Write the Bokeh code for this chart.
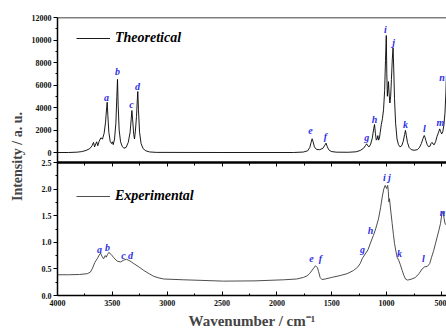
from bokeh.plotting import figure
from bokeh.models import (Range1d, LinearAxis, FixedTicker, Legend, LegendItem, ColumnDataSource)
from bokeh.core.properties import value
from bokeh.embed import file_html
from bokeh.resources import INLINE

# ---------------- data ----------------
THEO_X = [4000, 3900, 3820, 3780, 3740, 3705, 3685, 3672, 3662, 3652, 3643, 3633, 3620, 3605,
          3590, 3575, 3562, 3552, 3547, 3541, 3532, 3520, 3508, 3500, 3492, 3480, 3468, 3459,
          3453, 3447, 3438, 3425, 3410, 3395, 3375, 3355, 3338, 3328, 3322, 3315, 3305, 3298,
          3290, 3280, 3272, 3268, 3262, 3252, 3238, 3220, 3195, 3160, 3100, 2500, 1850, 1760,
          1720, 1700, 1688, 1679, 1670, 1658, 1640, 1610, 1580, 1563, 1552, 1542, 1528, 1505,
          1460, 1350, 1280, 1240, 1210, 1192, 1182, 1172, 1160, 1145, 1130, 1118, 1110, 1102,
          1094, 1086, 1080, 1073, 1066, 1058, 1048, 1038, 1028, 1018, 1010, 1003, 998, 993,
          988, 983, 977, 970, 963, 956, 948, 941, 935, 928, 918, 905, 892, 878, 862, 848, 836,
          828, 820, 810, 795, 775, 750, 720, 700, 683, 668, 657, 650, 642, 630, 618, 605, 595,
          586, 577, 565, 552, 540, 528, 516, 507, 498, 488, 478, 468, 460, 455]
THEO_Y = [0, 0, 30, 80, 180, 350, 600, 900, 500, 750, 950, 600, 1000, 1300,
          1200, 1700, 2700, 4000, 4470, 3300, 1800, 1000, 800, 950, 700, 1200, 2600, 5000,
          6500, 4200, 2000, 950, 550, 380, 450, 900, 1800, 3000, 3730, 2900, 1600, 1200,
          1900, 3200, 4800, 5420, 3800, 1800, 800, 350, 150, 50, 10, 0, 0, 40,
          150, 450, 900, 1220, 950, 500, 280, 250, 380, 650, 830, 550, 250, 90,
          30, 20, 60, 180, 380, 620, 770, 600, 500, 750, 1300, 2100, 2490, 1700,
          1100, 1200, 1500, 1100, 1250, 1800, 2500, 3000, 3800, 5500, 8200, 10400, 7000, 5000,
          5600, 6300, 5200, 4400, 5000, 6500, 8300, 9300, 7500, 4800, 2600, 1200, 700, 500, 600, 1000, 1600,
          1960, 1500, 900, 450, 250, 200, 250, 450, 800, 1250, 1510, 1350, 1050, 700, 520, 550, 800,
          900, 750, 700, 1000, 1450, 1750, 2100, 1850, 1650, 1850, 2400, 3500, 5200, 6800]

EXP_X = [4000, 3900, 3800, 3729, 3700, 3684, 3660, 3638, 3620, 3608, 3595, 3580, 3565, 3555,
         3545, 3532, 3510, 3487, 3456, 3426, 3396, 3371, 3340, 3305, 3260, 3213, 3165, 3122,
         3075, 3031, 2849, 2700, 2487, 2200, 1940, 1820, 1758, 1725, 1703, 1670, 1648, 1630,
         1620, 1606, 1590, 1560, 1500, 1423, 1360, 1302, 1265, 1241, 1220, 1195, 1170, 1150,
         1130, 1120, 1100, 1074, 1055, 1040, 1026, 1013, 1000, 990, 984, 979, 974, 960, 949,
         938, 928, 915, 904, 889, 875, 858, 843, 828, 810, 798, 770, 737, 705, 676, 652, 630,
         607, 590, 570, 555, 539, 524, 509, 497, 484, 476, 468, 455]
EXP_Y = [0.39, 0.39, 0.395, 0.41, 0.44, 0.50, 0.62, 0.69, 0.76, 0.795, 0.74, 0.69, 0.75, 0.72,
         0.77, 0.81, 0.77, 0.71, 0.645, 0.63, 0.665, 0.68, 0.65, 0.60, 0.54, 0.47, 0.41, 0.36,
         0.33, 0.31, 0.295, 0.285, 0.27, 0.275, 0.295, 0.31, 0.34, 0.37, 0.41, 0.50, 0.56, 0.52,
         0.45, 0.34, 0.30, 0.31, 0.34, 0.375, 0.41, 0.47, 0.53, 0.60, 0.70, 0.78, 0.86, 0.97,
         1.08, 1.13, 1.25, 1.44, 1.65, 1.85, 2.00, 2.07, 2.01, 2.07, 1.95, 1.76, 1.82, 1.55, 1.35,
         1.15, 0.98, 0.83, 0.72, 0.66, 0.58, 0.47, 0.38, 0.31, 0.29, 0.295, 0.31, 0.34, 0.41, 0.50, 0.54, 0.545,
         0.60, 0.72, 0.85, 0.97, 1.10, 1.22, 1.35, 1.52, 1.58, 1.45, 1.36, 1.32]

TOP_LABELS = ["a", "b", "c", "d", "e", "f", "g", "h", "i", "j", "k", "l", "m", "n"]
TOP_LABEL_X = [3553, 3453, 3326, 3271, 1694, 1557, 1182, 1110, 1010, 937, 828, 655, 509, 494]
TOP_LABEL_Y = [4890, 7200, 4270, 5870, 1960, 1420, 1330, 2930, 10930, 9780, 2490, 2130, 2670, 6700]

BOT_LABELS = ["a", "b", "c", "d", "e", "f", "g", "h", "i", "j", "k", "l", "n"]
BOT_LABEL_X = [3617, 3544, 3398, 3335, 1685, 1603, 1220, 1147, 1020, 974, 883, 664, 491]
BOT_LABEL_Y = [0.865, 0.90, 0.75, 0.75, 0.70, 0.70, 0.865, 1.22, 2.22, 2.22, 0.79, 0.70, 1.56]

X_TICKS = [4000, 3500, 3000, 2500, 2000, 1500, 1000, 500]
X_MINOR = [3750, 3250, 2750, 2250, 1750, 1250, 750]
TOP_TICKS = [0, 2000, 4000, 6000, 8000, 10000, 12000]
TOP_MINOR = [1000, 3000, 5000, 7000, 9000, 11000]
BOT_TICKS = [0.0, 0.5, 1.0, 1.5, 2.0, 2.5]
BOT_MINOR = [0.25, 0.75, 1.25, 1.75, 2.25]

# ---------------- layout ----------------
FONT = "Liberation Serif"
FRAME_H = 278          # px, both panels together
TOP_H = 145            # px, upper panel
BOT_H = FRAME_H - TOP_H
TOP_MAX = 12000
TOP_ZERO_PX = 135      # px from frame top to the zero line of the upper panel
BOT_MAX = 2.5

Y_END = BOT_MAX * FRAME_H / BOT_H
TOP_START = TOP_MAX - FRAME_H * TOP_MAX / TOP_ZERO_PX


def top_to_default(v):
    """Position of an upper-panel value on the shared (default) y scale."""
    return (v - TOP_START) / (TOP_MAX - TOP_START) * Y_END


p = figure(width=446, height=331, output_backend="svg", toolbar_location=None,
           x_range=Range1d(4000, 454), y_range=Range1d(0, Y_END),
           min_border_left=57, min_border_right=0, min_border_top=17, min_border_bottom=36)
p.outline_line_color = None
p.grid.visible = False
p.extra_y_ranges = {"top": Range1d(TOP_START, TOP_MAX)}


def style_labels(ax):
    ax.major_label_text_font = FONT
    ax.major_label_text_font_style = "bold"
    ax.major_label_text_font_size = "8px"
    ax.major_label_text_color = "#111111"


# bottom x axis
xa = p.xaxis[0]
xa.ticker = FixedTicker(ticks=X_TICKS, minor_ticks=X_MINOR)
xa.axis_line_width = 1.5
xa.major_tick_in = 4
xa.major_tick_out = 0
xa.minor_tick_in = 2
xa.minor_tick_out = 0
xa.major_label_standoff = 4
style_labels(xa)
xa.axis_label = "Wavenumber / cm\u207b\u00b9"
xa.axis_label_text_font = FONT
xa.axis_label_text_font_style = "bold"
xa.axis_label_text_font_size = "15px"
xa.axis_label_standoff = 4

# shared left axis: lower panel ticks + upper panel ticks (mapped through its range)
top_pos = [top_to_default(v) for v in TOP_TICKS]
top_minor_pos = [top_to_default(v) for v in TOP_MINOR]
overrides = {pos: str(v) for pos, v in zip(top_pos, TOP_TICKS)}
overrides.update({v: f"{v:.1f}" for v in BOT_TICKS})
ya = p.yaxis[0]
ya.ticker = FixedTicker(ticks=BOT_TICKS + top_pos, minor_ticks=BOT_MINOR + top_minor_pos)
ya.major_label_overrides = overrides
ya.axis_line_width = 1.5
ya.major_tick_out = 4
ya.major_tick_in = 0
ya.minor_tick_out = 2
ya.minor_tick_in = 0
ya.major_label_standoff = 2
style_labels(ya)
ya.axis_label = "Intensity / a. u."
ya.axis_label_text_font = FONT
ya.axis_label_text_font_style = "bold"
ya.axis_label_text_font_size = "14px"
ya.axis_label_standoff = 4

# separator between the two panels, ticks pointing down
mid = LinearAxis(fixed_location=BOT_MAX, ticker=FixedTicker(ticks=X_TICKS, minor_ticks=X_MINOR))
mid.axis_line_width = 2.5
mid.major_tick_in = 4
mid.major_tick_out = 0
mid.minor_tick_in = 3
mid.minor_tick_out = 0
mid.major_label_text_color = None
mid.major_label_standoff = 0
p.add_layout(mid, "above")

# top border
topb = LinearAxis(fixed_location=Y_END, ticker=FixedTicker(ticks=[]))
topb.axis_line_width = 1.5
topb.major_tick_in = 0
topb.major_tick_out = 0
topb.minor_tick_in = 0
topb.minor_tick_out = 0
topb.major_label_text_color = None
p.add_layout(topb, "above")

# spectra
r_top = p.line(THEO_X, THEO_Y, y_range_name="top", line_color="black", line_width=0.9)
r_bot = p.line(EXP_X, EXP_Y, line_color="#3a3a3a", line_width=0.9)

# peak letters
src_t = ColumnDataSource(dict(x=TOP_LABEL_X, y=TOP_LABEL_Y, t=TOP_LABELS))
src_b = ColumnDataSource(dict(x=BOT_LABEL_X, y=BOT_LABEL_Y, t=BOT_LABELS))
for src, rng in ((src_t, "top"), (src_b, "default")):
    p.text(x="x", y="y", text="t", source=src, y_range_name=rng,
           text_font=value(FONT), text_font_style="bold italic", text_font_size="10px",
           text_color="#2f2fe6", text_align="center", text_baseline="middle")

# legends
for label, rend, loc in (("Theoretical", r_top, (19, 249)), ("Experimental", r_bot, (19, 91))):
    lg = Legend(items=[LegendItem(label=label, renderers=[rend])], location=loc)
    lg.label_text_font = FONT
    lg.label_text_font_style = "bold italic"
    lg.label_text_font_size = "14px"
    lg.label_text_color = "black"
    lg.glyph_width = 34
    lg.glyph_height = 16
    lg.label_height = 16
    lg.label_standoff = 5
    lg.padding = 0
    lg.margin = 0
    lg.spacing = 0
    lg.border_line_color = None
    lg.background_fill_alpha = 0
    p.add_layout(lg)

open("out.html", "w").write(file_html(p, INLINE))
